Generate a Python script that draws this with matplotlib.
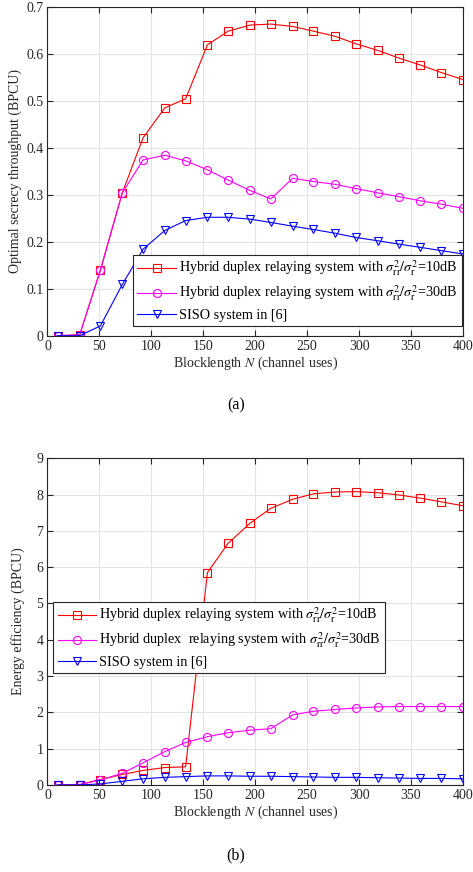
import matplotlib
matplotlib.use("Agg")
import matplotlib.pyplot as plt

plt.rcParams['font.family'] = ['Liberation Serif', 'DejaVu Serif']
plt.rcParams['mathtext.fontset'] = 'stix'

N = [10, 31, 51, 72, 92, 113, 133, 154, 174, 195, 215, 236, 256, 277, 297, 318, 338, 359, 379, 400]

# (a) Optimal secrecy throughput
thr_10dB = [0.0, 0.002, 0.14, 0.304, 0.421, 0.485, 0.504, 0.619, 0.648, 0.661, 0.663, 0.658,
            0.648, 0.637, 0.621, 0.607, 0.591, 0.576, 0.560, 0.545]
thr_30dB = [0.0, 0.002, 0.14, 0.304, 0.374, 0.384, 0.372, 0.353, 0.331, 0.309, 0.291, 0.335,
            0.328, 0.322, 0.313, 0.304, 0.296, 0.287, 0.280, 0.271]
thr_siso = [0.0, 0.0, 0.021, 0.109, 0.184, 0.224, 0.245, 0.252, 0.252, 0.248, 0.241, 0.233,
            0.226, 0.218, 0.209, 0.202, 0.195, 0.188, 0.181, 0.174]

# (b) Energy efficiency
ee_10dB = [0.0, 0.01, 0.15, 0.29, 0.40, 0.48, 0.50, 5.85, 6.66, 7.21, 7.62, 7.87,
           8.02, 8.07, 8.08, 8.05, 7.99, 7.90, 7.80, 7.69]
ee_30dB = [0.0, 0.01, 0.14, 0.32, 0.61, 0.92, 1.17, 1.33, 1.44, 1.51, 1.55, 1.93,
           2.03, 2.08, 2.12, 2.15, 2.16, 2.16, 2.16, 2.16]
ee_siso = [0.0, 0.0, 0.03, 0.10, 0.17, 0.21, 0.23, 0.25, 0.25, 0.24, 0.24, 0.23,
           0.22, 0.21, 0.21, 0.20, 0.19, 0.18, 0.18, 0.17]

xticks = [0, 50, 100, 150, 200, 250, 300, 350, 400]
yticks_a = [0, 0.1, 0.2, 0.3, 0.4, 0.5, 0.6, 0.7]
yticklabels_a = ['0', '0.1', '0.2', '0.3', '0.4', '0.5', '0.6', '0.7']
yticks_b = [0, 1, 2, 3, 4, 5, 6, 7, 8, 9]

lab_a = [r'Hybrid duplex relaying system with $\sigma_{\rm rr}^{2}/\sigma_{\rm r}^{2}$=10dB',
         r'Hybrid duplex relaying system with $\sigma_{\rm rr}^{2}/\sigma_{\rm r}^{2}$=30dB',
         'SISO system in [6]']
lab_b = [r'Hybrid duplex relaying system with $\sigma_{\rm rr}^{2}/\sigma_{\rm r}^{2}$=10dB',
         r'Hybrid duplex  relaying system with $\sigma_{\rm rr}^{2}/\sigma_{\rm r}^{2}$=30dB',
         'SISO system in [6]']

fig = plt.figure(figsize=(4.73, 8.72), dpi=100)
ax1 = fig.add_axes([0.1004, 0.615, 0.8784, 0.3773])
ax2 = fig.add_axes([0.1004, 0.0998, 0.8784, 0.3747])

styles = [dict(color='#ff0000', marker='s'), dict(color='#ff00ff', marker='o'), dict(color='#0000ff', marker='v')]
TXT = '#262626'

def style_ax(ax):
    ax.grid(True, color='#e3e3e3', linewidth=0.8)
    ax.set_axisbelow(True)
    ax.tick_params(direction='in', top=True, right=True, labelsize=10, colors=TXT,
                   length=4, width=0.8, pad=3)
    for s in ax.spines.values():
        s.set_color(TXT)
        s.set_linewidth(0.8)
    ax.set_xlim(0, 400)
    ax.set_xticks(xticks)
    ax.set_xlabel(r'Blocklength $N$ (channel uses)', fontsize=10, color=TXT, labelpad=1)

for ax, ys, labs in [(ax1, [thr_10dB, thr_30dB, thr_siso], lab_a), (ax2, [ee_10dB, ee_30dB, ee_siso], lab_b)]:
    for y, st, lb in zip(ys, styles, labs):
        ax.plot(N, y, color=st['color'], marker=st['marker'], markersize=5.8,
                markerfacecolor='none', markeredgewidth=0.8, linewidth=0.8, label=lb)
    style_ax(ax)

ax1.set_ylim(0, 0.7)
ax1.set_yticks(yticks_a)
ax1.set_yticklabels(yticklabels_a)
ax1.set_ylabel('Optimal secrecy throughput (BPCU)', fontsize=10, color=TXT, labelpad=3)
ax2.set_ylim(0, 9)
ax2.set_yticks(yticks_b)
ax2.set_ylabel('Energy efficiency (BPCU)', fontsize=10, color=TXT, labelpad=8)

legkw = dict(fontsize=10.2, frameon=True, fancybox=False, edgecolor=TXT, framealpha=1,
             borderaxespad=0, handlelength=2.7, handletextpad=0.25, labelspacing=0.4,
             borderpad=0.3)
leg1 = ax1.legend(loc='lower right', bbox_to_anchor=(0.997, 0.029), **legkw)
leg1.get_frame().set_linewidth(0.8)
leg2 = ax2.legend(loc='lower left', bbox_to_anchor=(0.014, 0.342), **legkw)
leg2.get_frame().set_linewidth(0.8)

fig.text(0.499, 1 - 405 / 872, '(a)', ha='center', va='center', fontsize=11.5)
fig.text(0.499, 1 - 855 / 872, '(b)', ha='center', va='center', fontsize=11.5)

fig.savefig('out.png', dpi=100)
